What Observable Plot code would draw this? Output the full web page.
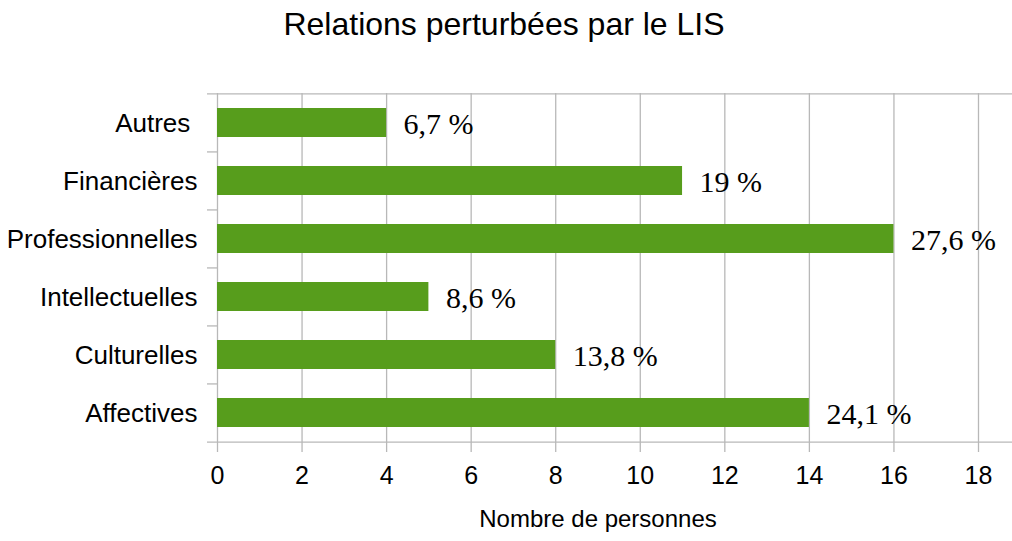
<!DOCTYPE html>
<html>
<head>
<meta charset="utf-8">
<script src="https://cdn.jsdelivr.net/npm/d3@7"></script>
<script src="https://cdn.jsdelivr.net/npm/@observablehq/plot@0.6"></script>
<style>
  html, body { margin: 0; padding: 0; background: #fff; }
  #wrap { width: 1012px; height: 541px; position: relative; overflow: hidden; }
  #title { position: absolute; left: 0; top: 0; width: 1012px; height: 58px; text-align: center;
    font-family: "Liberation Sans", Arial, sans-serif; font-size: 32px; line-height: 32px; padding-top: 8px; padding-right: 4px; box-sizing: border-box; color: #000; }
  #chart { position: absolute; left: 0; top: 58px; }
</style>
</head>
<body>
<div id="wrap">
  <div id="title">Relations perturbées par le LIS</div>
  <div id="chart"></div>
</div>
<script>
const categories = ["Autres", "Financières", "Professionnelles", "Intellectuelles", "Culturelles", "Affectives"];
const counts = [4, 11, 16, 5, 8, 14];
const percentLabels = ["6,7 %", "19 %", "27,6 %", "8,6 %", "13,8 %", "24,1 %"];
const xTicks = [0, 2, 4, 6, 8, 10, 12, 14, 16, 18];
const xLabel = "Nombre de personnes";

const data = categories.map((c, i) => ({category: c, count: counts[i], label: percentLabels[i]}));
const grid = "#b8b8b8";
const sans = "Liberation Sans, Arial, sans-serif";

const plot = Plot.plot({
  width: 1012,
  height: 483,
  marginLeft: 217,
  marginRight: 34,
  marginTop: 35,
  marginBottom: 99,
  style: {background: "#fff", color: "#000"},
  x: {domain: [0, 18], ticks: xTicks},
  y: {domain: categories, paddingInner: 0.5, paddingOuter: 0.25, label: null},
  marks: [
    Plot.gridX(xTicks, {stroke: grid, strokeOpacity: 1, strokeWidth: 1.3}),
    Plot.ruleY(categories.slice(1), {x1: 0, x2: 0, insetLeft: -10, dy: -29.08, stroke: grid, strokeWidth: 1.3}),
    Plot.ruleY([categories[0]], {dy: -29.08, insetLeft: -10, insetRight: -34, stroke: grid, strokeWidth: 1.3}),
    Plot.ruleY([categories[categories.length - 1]], {dy: 29.08, insetLeft: -10, insetRight: -34, stroke: grid, strokeWidth: 1.3}),
    Plot.barX(data, {x: "count", y: "category", fill: "#579d1c"}),
    Plot.text(data, {x: "count", y: "category", text: "label", dx: 17, dy: 1, textAnchor: "start",
      fontFamily: "Liberation Serif, Times New Roman, serif", fontSize: 30, fill: "#000"}),
    Plot.axisX({ticks: xTicks, tickSize: 10, tickPadding: 14, stroke: grid, strokeWidth: 1.3,
      fontSize: 25, fontFamily: sans, label: null, fill: "#000"}),
    Plot.axisY({tickSize: 0, tickPadding: 20, fontSize: 26, fontFamily: sans, label: null, fill: "#000", dy: 1,
      tickFormat: d => d === "Autres" ? "Autres\u00a0" : d}),
    Plot.text([xLabel], {frameAnchor: "bottom", dy: 84, text: d => d, fontSize: 24,
      fontFamily: sans, fill: "#000", letterSpacing: "1.5px"})
  ]
});
document.getElementById("chart").appendChild(plot);
</script>
</body>
</html>
